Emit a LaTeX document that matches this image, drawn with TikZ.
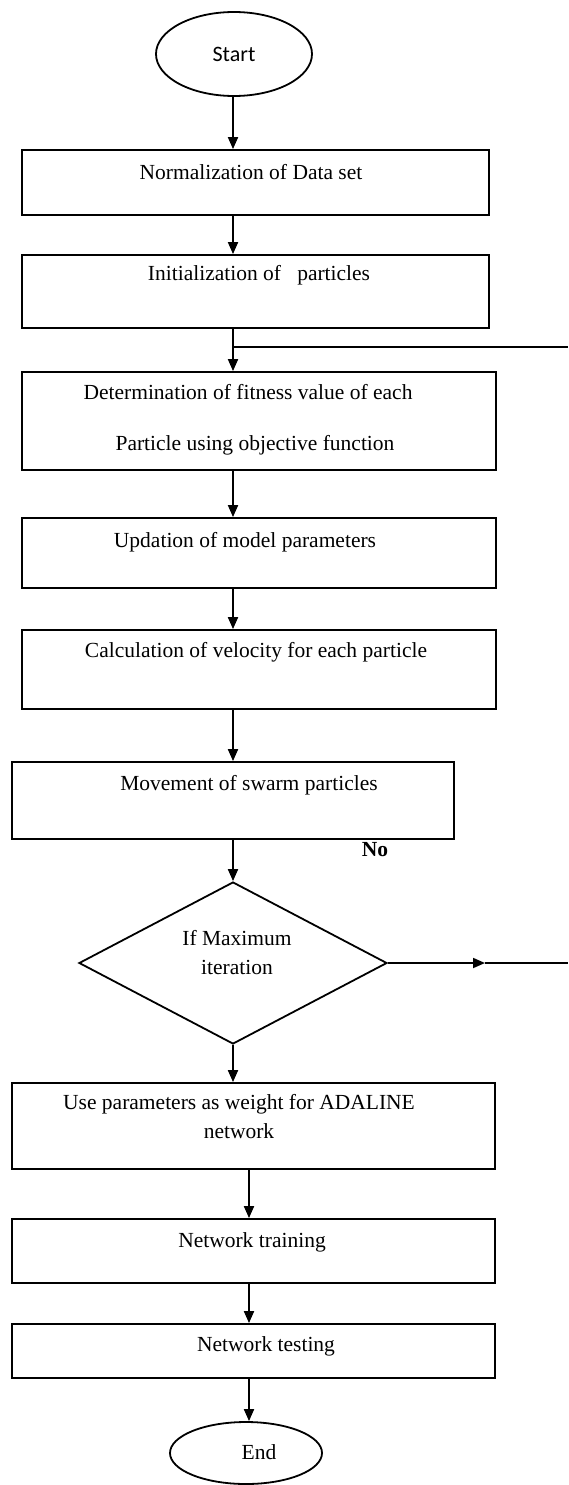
\documentclass[tikz,border=0pt]{standalone}
\usepackage{fontspec}
\setmainfont{Liberation Serif}
\newfontfamily\startfont{Carlito}
\usetikzlibrary{shapes.geometric,arrows.meta}

\begin{document}
\begin{tikzpicture}[x=1pt,y=-1pt,line width=1.8pt,
	box/.style={draw,rectangle,inner sep=0pt},
	lbl/.style={font=\fontsize{21.5}{24}\selectfont,inner sep=0pt},
	arr/.style={-{Triangle[length=12pt,width=10pt]}}]
	
	\useasboundingbox (0,0) rectangle (568,1485);
	
	% Start und obere Kaesten
	\node[draw,ellipse,minimum width=156pt,minimum height=84pt,inner sep=0pt,font=\startfont\fontsize{22}{24}\selectfont] (start) at (234,54) {Start};
	
	\node[box,minimum width=467pt,minimum height=65pt] (b1) at (255.5,182.5) {};
	\node[lbl] (t1) at (251,172) {Normalization of Data set};
	
	\node[box,minimum width=467pt,minimum height=73pt] (b2) at (255.5,291.5) {};
	\node[lbl] (t2) at (259,275) {Initialization of \ \ particles};
	
	\node[box,minimum width=474pt,minimum height=98pt] (b3) at (259,421) {};
	\node[lbl] (t3a) at (248,392) {Determination of fitness value of each};
	\node[lbl] (t3b) at (255,445) {Particle using objective function};
	
	\node[box,minimum width=474pt,minimum height=70pt] (b4) at (259,553) {};
	\node[lbl] (t4) at (245,542) {Updation of model parameters};
	
	\node[box,minimum width=474pt,minimum height=79pt] (b5) at (259,669.5) {};
	\node[lbl] (t5) at (256,652) {Calculation of velocity for each particle};
	
	\node[box,minimum width=442pt,minimum height=77pt] (b6) at (233,800.5) {};
	\node[lbl] (t6) at (249,785) {Movement of swarm particles};
	
	% Entscheidung
	\node[draw,diamond,minimum width=308pt,minimum height=162pt,inner sep=0pt] (dec) at (233,963) {};
	\node[lbl,align=center,font=\fontsize{21.5}{29}\selectfont] (tdec) at (237,953) {If Maximum\\iteration};
	\node[lbl,font=\bfseries\fontsize{21.5}{24}\selectfont] (no) at (375,850) {No};
	
	% untere Kaesten und Ende
	\node[box,minimum width=483pt,minimum height=86pt] (b7) at (253.5,1126) {};
	\node[lbl,align=center,font=\fontsize{21.5}{29}\selectfont] (t7) at (239,1117) {Use parameters as weight for ADALINE\\network};
	
	\node[box,minimum width=483pt,minimum height=64pt] (b8) at (253.5,1251) {};
	\node[lbl] (t8) at (252,1242) {Network training};
	
	\node[box,minimum width=483pt,minimum height=54pt] (b9) at (253.5,1351) {};
	\node[lbl] (t9) at (266,1346) {Network testing};
	
	\node[draw,ellipse,minimum width=152pt,minimum height=62pt,inner sep=0pt] (endn) at (246,1453) {};
	\node[lbl] (tend) at (259,1452) {End};
	
	% Pfeile
	\coordinate (ax) at (233,0);
	\coordinate (bx) at (249,0);
	\draw[arr] (ax |- start.south) -- (ax |- b1.north);
	\draw[arr] (ax |- b1.south) -- (ax |- b2.north);
	\draw[arr] (ax |- b2.south) -- (ax |- b3.north);
	\draw[arr] (ax |- b3.south) -- (ax |- b4.north);
	\draw[arr] (ax |- b4.south) -- (ax |- b5.north);
	\draw[arr] (ax |- b5.south) -- (ax |- b6.north);
	\draw[arr] (ax |- b6.south) -- (dec.north);
	\draw[arr] (dec.south) -- (dec.south |- b7.north);
	\draw[arr] (bx |- b7.south) -- (bx |- b8.north);
	\draw[arr] (bx |- b8.south) -- (bx |- b9.north);
	\draw[arr] (bx |- b9.south) -- (bx |- endn.north);
	
	% Rueckfuehrung (abgeschnitten am Rand)
	\coordinate (fbtop) at (568,347);
	\coordinate (fbmid) at (485,963);
	\coordinate (fbend) at (568,963);
	\draw (ax |- fbtop) -- (fbtop);
	\draw[arr] (dec.east) -- (fbmid);
	\draw (fbmid) -- (fbend);
	
\end{tikzpicture}
\end{document}
